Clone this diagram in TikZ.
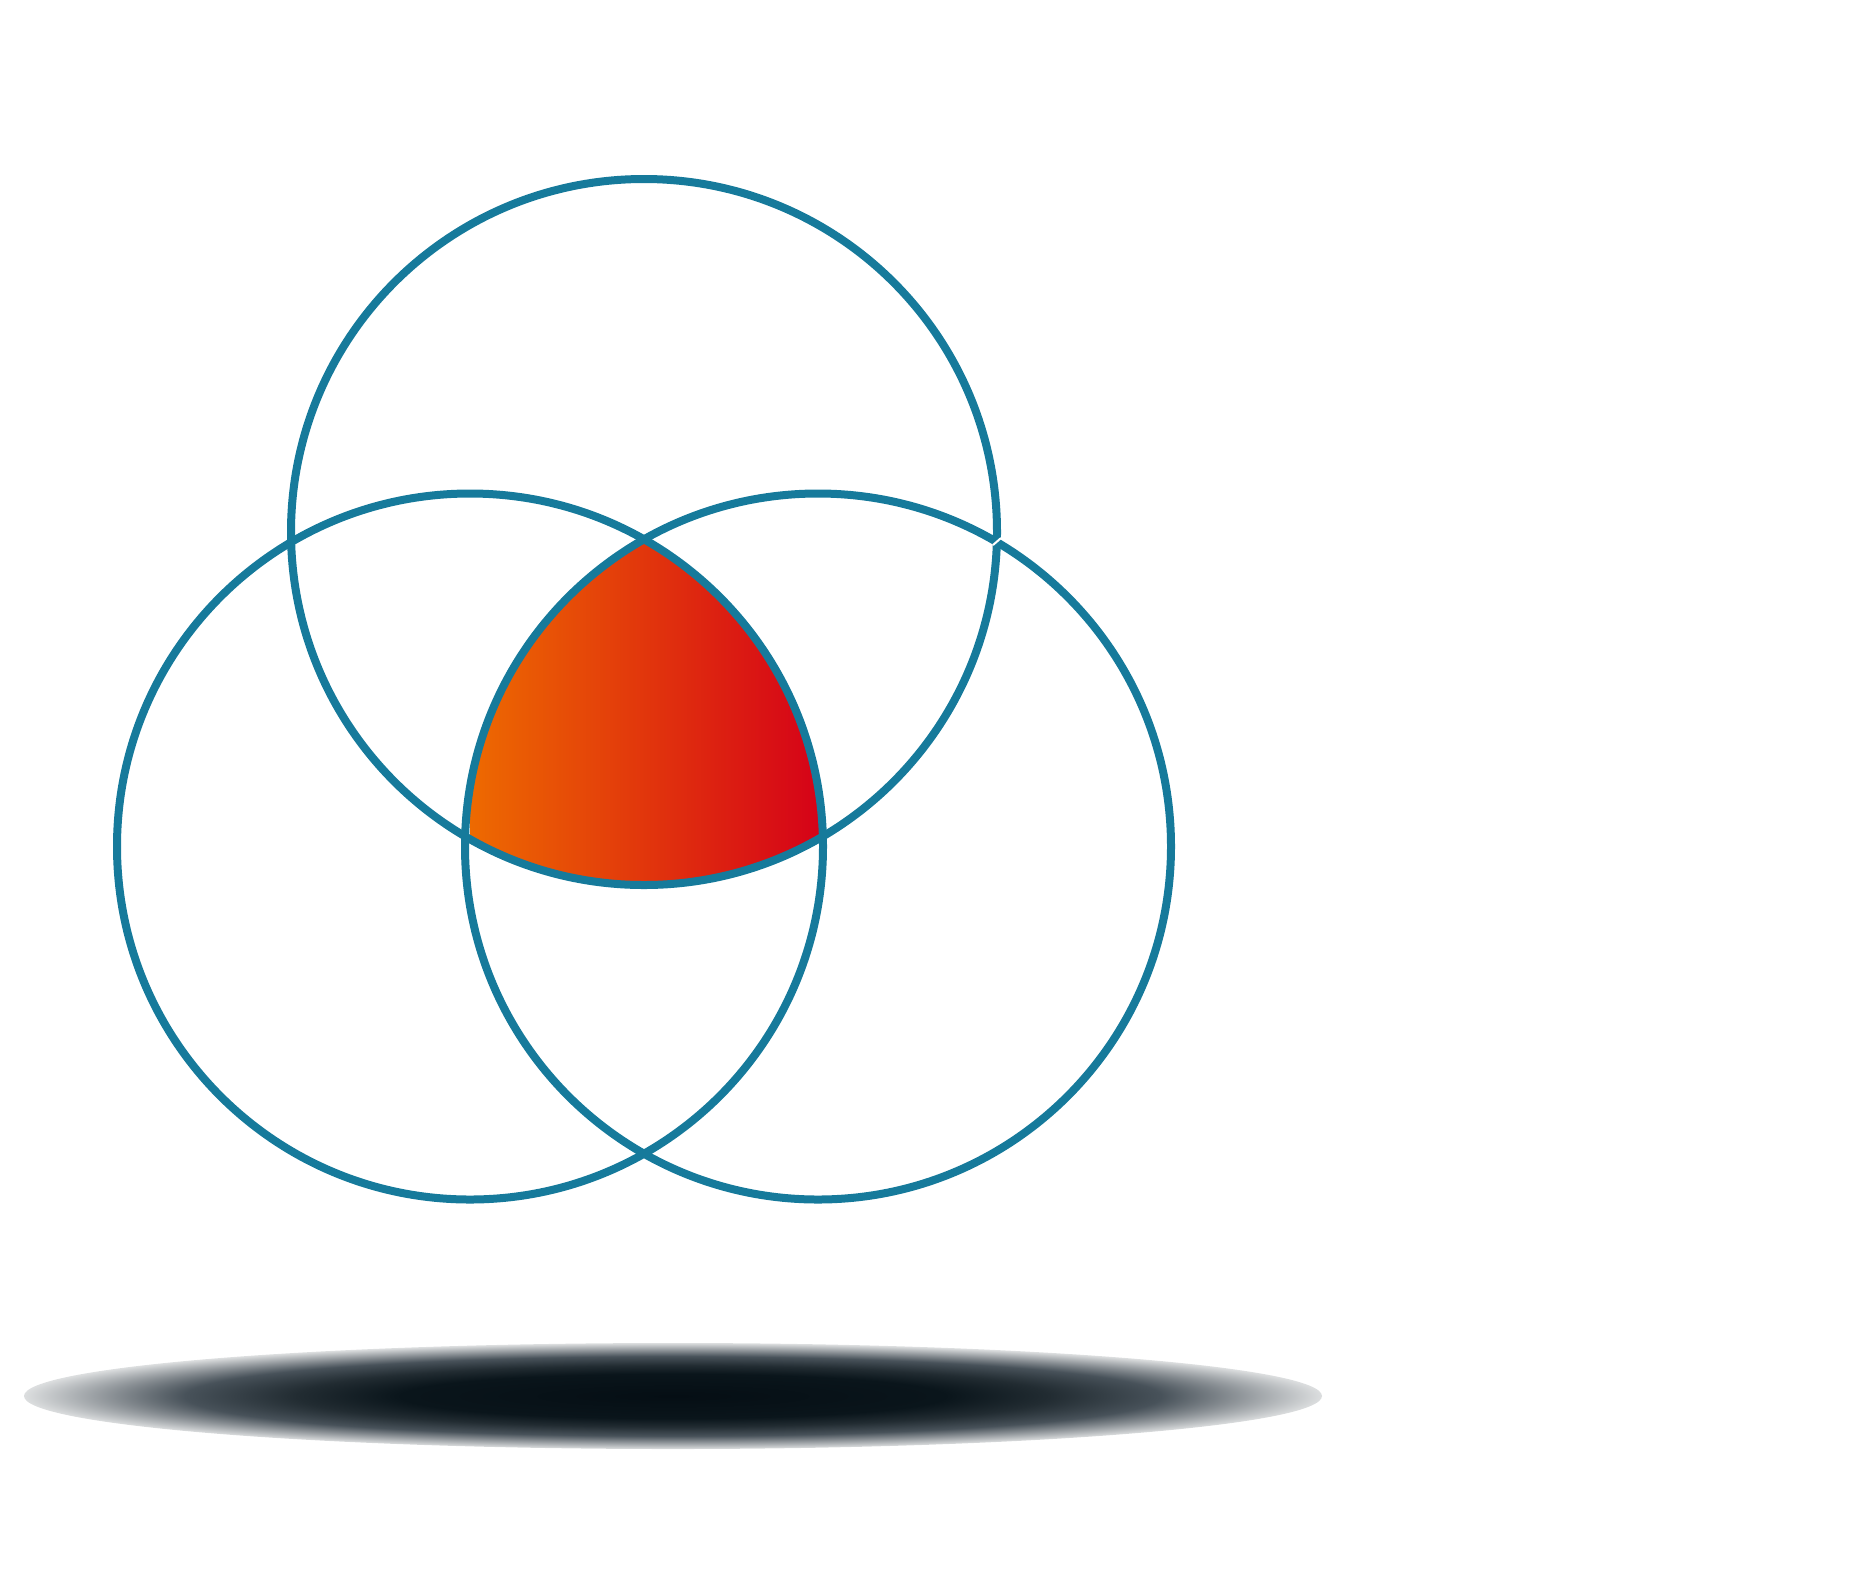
\documentclass[tikz,border=0pt]{standalone}
\usetikzlibrary{shadings}
\definecolor{ringblue}{HTML}{167A9B}
\definecolor{redL}{HTML}{EE6C00}
\definecolor{redM}{HTML}{E13A0B}
\definecolor{redR}{HTML}{D50118}
\definecolor{shA}{HTML}{050E14}
\definecolor{shB}{HTML}{0A151B}
\definecolor{shC}{HTML}{222C32}
\definecolor{shD}{HTML}{48525A}
\definecolor{shE}{HTML}{888E93}
\definecolor{shF}{HTML}{DCDEDF}
\pgfdeclareradialshading{floorshadow}{\pgfpoint{0bp}{0bp}}{%
  color(0bp)=(shA); color(10.5bp)=(shB); color(14.5bp)=(shC);
  color(18.8bp)=(shD); color(21.5bp)=(shE); color(25bp)=(shF); color(50bp)=(shF)}
\tikzset{
  ring/.style={draw=ringblue, line width=8*0.02cm},
  gapline/.style={draw=white, line width=2*0.02cm},
}
\begin{document}
\begin{tikzpicture}[x=0.02cm, y=-0.02cm]
  \useasboundingbox (0,0) rectangle (1875,1583);
  \coordinate (T) at (644,532);
  \coordinate (L) at (470,846.5);
  \coordinate (R) at (818,846.5);
  \coordinate (S) at (673,1396);
  % shadow
  \shade[shading=floorshadow] (S) ellipse[x radius=649, y radius=53];
  % central intersection
  \begin{scope}
    \clip (T) circle[radius=353];
    \clip (L) circle[radius=353];
    \clip (R) circle[radius=353];
    \shade[left color=redL, middle color=redM, right color=redR] (463,520) rectangle (823,895);
  \end{scope}
  \draw[gapline] (468.5,798) -- (468.5,836);
  % rings
  \draw[ring] (T) circle[radius=353];
  \draw[ring] (L) circle[radius=353];
  \draw[ring] (R) circle[radius=353];
  \draw[gapline] (993,545) -- (1001,538);
\end{tikzpicture}
\end{document}
